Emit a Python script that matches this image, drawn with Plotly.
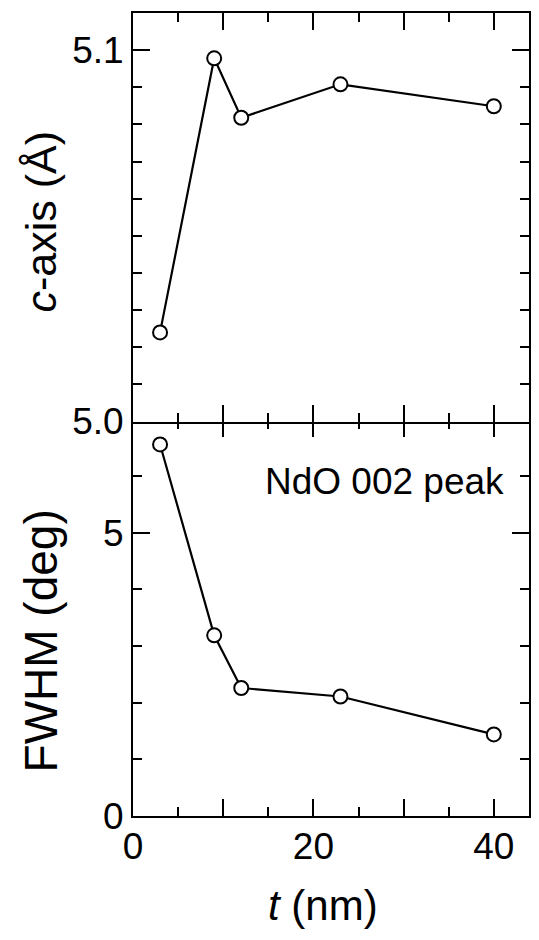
import plotly.graph_objects as go

# Data
t_nm = [3, 9, 12, 23, 40]
c_axis = [5.024, 5.0978, 5.0818, 5.0908, 5.0849]
fwhm = [6.56, 3.19, 2.26, 2.11, 1.44]

x_tickvals = [0, 10, 20, 30, 40]
x_ticktext = ["0", "", "20", "", "40"]
c_tickvals = [5.0, 5.1]
c_ticktext = ["5.0", "5.1"]
f_tickvals = [0, 5]
f_ticktext = ["0", "5"]

FONT = "Arial, Liberation Sans, sans-serif"
BLACK = "black"

# page offset of the figure (default body margin) and figure geometry
OFF = 8
W, H = 523, 924
ML, MT, MB = 125, 5, 116
PW = W - ML
PH = H - MT - MB


def px(X):
    return (X - OFF - ML) / PW


def py(Y):
    return (H - MB - (Y - OFF)) / PH


fig = go.Figure()

marker = dict(symbol="circle", size=14, color="white", line=dict(color=BLACK, width=2))
line = dict(color=BLACK, width=2.2)

fig.add_trace(go.Scatter(x=t_nm, y=c_axis, mode="lines+markers", marker=marker, line=line,
                         xaxis="x2", yaxis="y2", showlegend=False, cliponaxis=False))
fig.add_trace(go.Scatter(x=t_nm, y=fwhm, mode="lines+markers", marker=marker, line=line,
                         xaxis="x", yaxis="y", showlegend=False, cliponaxis=False))

split = 0.4925
d = 1.0 / PH
xr = [0, 43.9]

common_x = dict(showgrid=False, zeroline=False, showline=True, linecolor=BLACK, linewidth=2,
                mirror="ticks", ticks="inside", ticklen=17, tickwidth=2, tickcolor=BLACK,
                tickvals=x_tickvals, ticktext=x_ticktext,
                minor=dict(tickvals=[5, 15, 25, 35], ticklen=9, tickwidth=2, tickcolor=BLACK, ticks="inside"),
                tickfont=dict(family=FONT, size=37, color=BLACK))

ycommon = dict(showgrid=False, zeroline=False, showline=True, linecolor=BLACK, linewidth=2,
               mirror="ticks", ticks="inside", ticklen=17, tickwidth=2, tickcolor=BLACK,
               tickfont=dict(family=FONT, size=37, color=BLACK))

fig.update_layout(
    width=W, height=H,
    margin=dict(l=ML, r=0, t=MT, b=MB, pad=0),
    paper_bgcolor="white", plot_bgcolor="white",
    xaxis=dict(domain=[0, 1], anchor="y", range=xr, ticklabelstandoff=-3, **common_x),
    xaxis2=dict(domain=[0, 1], anchor="y2", matches="x", showticklabels=False, **common_x),
    yaxis=dict(domain=[0, split + d], range=[0, 7], anchor="x", tickvals=f_tickvals, ticktext=f_ticktext,
               minor=dict(dtick=1, ticklen=9, tickwidth=2, tickcolor=BLACK, ticks="inside"),
               **ycommon),
    yaxis2=dict(domain=[split - d, 1], range=[5.0, 5.11], anchor="x2", tickvals=c_tickvals, ticktext=c_ticktext,
                minor=dict(tick0=5.0, dtick=0.01, ticklen=9, tickwidth=2, tickcolor=BLACK, ticks="inside"),
                **ycommon),
    annotations=[
        dict(text="NdO 002 peak", xref="paper", yref="paper", x=px(508), y=py(481),
             xanchor="right", yanchor="middle", showarrow=False,
             font=dict(family=FONT, size=37, color=BLACK)),
        dict(text="<i>c</i>-axis (Å)", xref="paper", yref="paper", x=px(41), y=py(221),
             xanchor="center", yanchor="middle", textangle=-90, showarrow=False,
             font=dict(family=FONT, size=43, color=BLACK)),
        dict(text="FWHM (deg)", xref="paper", yref="paper", x=px(41), y=py(641),
             xanchor="center", yanchor="middle", textangle=-90, showarrow=False,
             font=dict(family=FONT, size=46, color=BLACK)),
        dict(text="<i>t</i> (nm)", xref="paper", yref="paper", x=px(324), y=py(905),
             xanchor="center", yanchor="middle", showarrow=False,
             font=dict(family=FONT, size=42, color=BLACK)),
    ],
)

fig.write_html("out.html")
